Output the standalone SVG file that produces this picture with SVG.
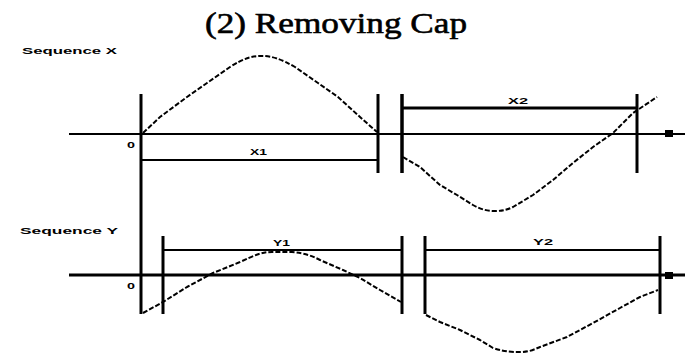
<svg xmlns="http://www.w3.org/2000/svg" width="690" height="354" viewBox="0 0 690 354">
<style>
.ln{stroke:#000;fill:none}
.cv{stroke:#000;fill:none;stroke-width:2;stroke-dasharray:5 2;stroke-linejoin:round}
.t{font-family:"Liberation Serif",serif;font-weight:normal;fill:#000;stroke:#000;stroke-width:0.6}
.s{font-family:"Liberation Sans",sans-serif;font-weight:bold;fill:#000;font-size:9px}
</style>
<rect width="690" height="354" fill="#fff"/>
<g id="title">
<text class="t" x="205" y="33" font-size="30" textLength="262" lengthAdjust="spacingAndGlyphs">(2) Removing Cap</text>
</g>
<g id="sequence-x">
<text class="s" x="22" y="54" textLength="95" lengthAdjust="spacingAndGlyphs">Sequence X</text>
<line class="ln" x1="69" y1="134" x2="685" y2="134" stroke-width="2"/>
<text class="s" x="127" y="148" textLength="8" lengthAdjust="spacingAndGlyphs">0</text>
<rect x="665" y="130" width="8" height="7" fill="#000"/>
<line class="ln" x1="141" y1="94" x2="141" y2="314" stroke-width="3"/>
<line class="ln" x1="378" y1="94" x2="378" y2="173" stroke-width="3"/>
<line class="ln" x1="402" y1="94" x2="402" y2="173" stroke-width="3.5"/>
<line class="ln" x1="637" y1="94" x2="637" y2="173" stroke-width="3"/>
<line class="ln" x1="142" y1="160" x2="378" y2="160" stroke-width="2"/>
<text class="s" x="250" y="155" textLength="17" lengthAdjust="spacingAndGlyphs">X1</text>
<line class="ln" x1="402" y1="108" x2="637" y2="108" stroke-width="3"/>
<text class="s" x="508" y="104" textLength="20" lengthAdjust="spacingAndGlyphs">X2</text>
<path class="cv" d="M143,133 L160,117 L187,97 L207,83 L230,67 C244,58 252,56 262,56 C272,56 281,59 295,67 L318,83 L338,97 L360,117 L377,132"/>
<path class="cv" d="M403,157 L420,167 L440,185 L457,195 L473,205 C482,210 488,211 495,211 C502,211 507,210 513,207 L533,195 L553,180 L573,163 L593,147 L613,133 L633,113 L657,97"/>
</g>
<g id="sequence-y">
<text class="s" x="20" y="234" textLength="98" lengthAdjust="spacingAndGlyphs">Sequence Y</text>
<line class="ln" x1="69" y1="275" x2="685" y2="275" stroke-width="3"/>
<text class="s" x="127" y="289" textLength="8" lengthAdjust="spacingAndGlyphs">0</text>
<rect x="665" y="272" width="8" height="7" fill="#000"/>
<line class="ln" x1="163" y1="236" x2="163" y2="314" stroke-width="3"/>
<line class="ln" x1="402" y1="236" x2="402" y2="314" stroke-width="3"/>
<line class="ln" x1="425" y1="236" x2="425" y2="314" stroke-width="3"/>
<line class="ln" x1="660" y1="236" x2="660" y2="314" stroke-width="3"/>
<line class="ln" x1="163" y1="250" x2="402" y2="250" stroke-width="2"/>
<text class="s" x="273" y="246" textLength="17" lengthAdjust="spacingAndGlyphs">Y1</text>
<line class="ln" x1="425" y1="250" x2="660" y2="250" stroke-width="2"/>
<text class="s" x="533" y="245" textLength="20" lengthAdjust="spacingAndGlyphs">Y2</text>
<path class="cv" d="M143,313 L163,302 L187,287 L213,273 L240,262 C255,255 262,252 272,252 L292,252 C305,253 312,256 320,260 L343,270 L360,278 L380,290 L401,302"/>
<path class="cv" d="M426,315 L440,322 L460,330 L480,340 L493,348 C505,352 512,352 520,352 C530,352 535,349 540,347 L567,337 L593,323 L620,308 L640,297 L658,290"/>
</g>
</svg>
